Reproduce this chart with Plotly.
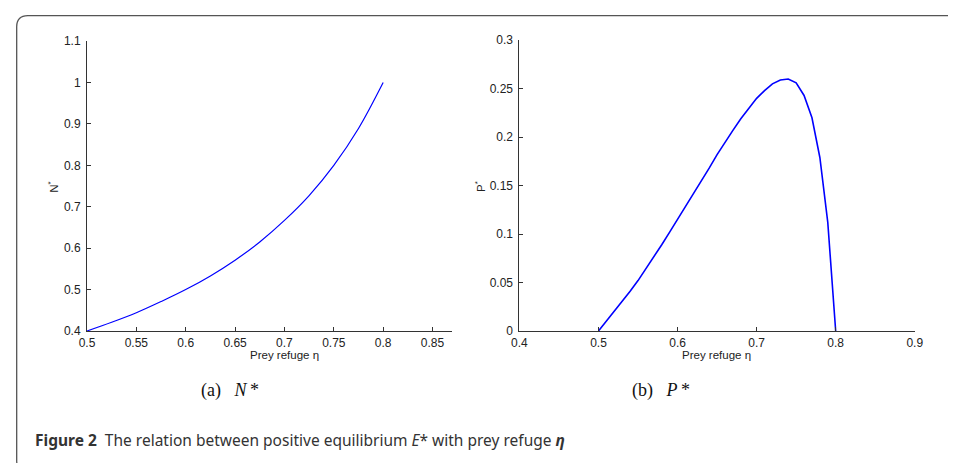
import plotly.graph_objects as go

# ---- data ----
eta_n = [0.500, 0.525, 0.550, 0.575, 0.600, 0.625, 0.650, 0.675, 0.700, 0.725, 0.750, 0.775, 0.800]
n_star = [0.400, 0.421, 0.444, 0.471, 0.500, 0.533, 0.571, 0.615, 0.667, 0.727, 0.800, 0.889, 1.000]

eta_p = [0.50, 0.51, 0.52, 0.53, 0.54, 0.55, 0.56, 0.57, 0.58, 0.59, 0.60,
         0.61, 0.62, 0.63, 0.64, 0.65, 0.66, 0.67, 0.68, 0.69, 0.70,
         0.71, 0.72, 0.73, 0.74, 0.75, 0.76, 0.77, 0.78, 0.79, 0.80]
p_star = [0.000, 0.010, 0.020, 0.030, 0.041, 0.052, 0.064, 0.076, 0.089, 0.102, 0.115,
          0.128, 0.141, 0.154, 0.168, 0.182, 0.195, 0.207, 0.219, 0.230, 0.240,
          0.248, 0.255, 0.259, 0.260, 0.256, 0.243, 0.220, 0.179, 0.112, 0.000]

n_xticks = [0.5, 0.55, 0.6, 0.65, 0.7, 0.75, 0.8, 0.85]
n_xlabels = ["0.5", "0.55", "0.6", "0.65", "0.7", "0.75", "0.8", "0.85"]
n_yticks = [0.4, 0.5, 0.6, 0.7, 0.8, 0.9, 1.0, 1.1]
n_ylabels = ["0.4", "0.5", "0.6", "0.7", "0.8", "0.9", "1", "1.1"]
p_xticks = [0.4, 0.5, 0.6, 0.7, 0.8, 0.9]
p_xlabels = ["0.4", "0.5", "0.6", "0.7", "0.8", "0.9"]
p_yticks = [0, 0.05, 0.1, 0.15, 0.2, 0.25, 0.3]
p_ylabels = ["0", "0.05", "0.1", "0.15", "0.2", "0.25", "0.3"]

# page is 956x471; the browser body keeps an 8px margin around the figure
OFF = 8
W, H = 956 - 2 * OFF, 471 - 2 * OFF


def px(x):
    return (x - OFF) / W


def py(y):
    return 1 - (y - OFF) / H


fig = go.Figure()
fig.add_trace(go.Scatter(x=eta_n, y=n_star, mode="lines", line=dict(color="#0000ff", width=1.2, shape="spline"),
                         xaxis="x", yaxis="y", showlegend=False))
fig.add_trace(go.Scatter(x=eta_p, y=p_star, mode="lines", line=dict(color="#0000ff", width=1.6),
                         xaxis="x2", yaxis="y2", showlegend=False, cliponaxis=False))

tickfont = dict(family="Liberation Sans, Arial, sans-serif", size=12, color="#222")
common = dict(showline=True, linecolor="#333", linewidth=1, ticks="inside", ticklen=4, tickcolor="#333",
              showgrid=False, zeroline=False, tickfont=tickfont, mirror=False)

fig.update_layout(
    width=W, height=H, margin=dict(l=0, r=0, t=0, b=0), autosize=False,
    paper_bgcolor="white", plot_bgcolor="white",
    xaxis=dict(domain=[px(80.3), px(452.3)], range=[0.5, 0.87], tickvals=n_xticks, ticktext=n_xlabels,
               anchor="y", ticklabelstandoff=1, **common),
    yaxis=dict(domain=[py(334), py(35)], range=[0.4, 1.1], tickvals=n_yticks, ticktext=n_ylabels,
               anchor="x", ticklabelstandoff=3, **common),
    xaxis2=dict(domain=[px(520.7), px(923.3)], range=[0.4, 0.9], tickvals=p_xticks, ticktext=p_xlabels,
                anchor="y2", ticklabelstandoff=1, **common),
    yaxis2=dict(domain=[py(334), py(34)], range=[0, 0.3], tickvals=p_yticks, ticktext=p_ylabels,
                anchor="x2", ticklabelstandoff=3, **common),
)

labfont = dict(family="Liberation Sans, Arial, sans-serif", size=11.5, color="#222")
serif = dict(family="Liberation Serif, DejaVu Serif, serif", size=18, color="#111")
sp = "\u00a0\u00a0\u00a0"
ann = [
    dict(x=px(45), y=py(186), text="N<sup>*</sup>", textangle=-90, font=labfont),
    dict(x=px(480), y=py(185), text="P<sup>*</sup>", textangle=-90, font=labfont),
    dict(x=px(281.5), y=py(359), text="Prey refuge η", font=labfont),
    dict(x=px(721.6), y=py(359), text="Prey refuge η", font=labfont),
    dict(x=px(226), y=py(395), text="(a)" + sp + "<i>N</i>\u2009*", font=serif),
    dict(x=px(665), y=py(395), text="(b)" + sp + "<i>P</i>\u2009*", font=serif),
    dict(x=px(25), y=py(447), xanchor="left",
         text="<b>Figure 2</b>\u00a0\u00a0The relation between positive equilibrium <i>E</i>* with prey refuge <b><i>η</i></b>",
         font=dict(family="Noto Sans, Open Sans, sans-serif", size=15.5, color="#333")),
]
for a in ann:
    a.setdefault("xanchor", "center")
    a.update(xref="paper", yref="paper", yanchor="middle", showarrow=False)
fig.update_layout(annotations=ann)

path = (f"M {px(14)},{py(475)} Q {px(8.7)},{py(475)} {px(8.7)},{py(468)} "
        f"L {px(8.7)},{py(20)} Q {px(8.7)},{py(8.7)} {px(20)},{py(8.7)} L {px(960)},{py(8.7)}")
fig.add_shape(type="path", path=path, xref="paper", yref="paper", line=dict(color="#555", width=1.3))

fig.write_html("out.html", config={"displayModeBar": False})
